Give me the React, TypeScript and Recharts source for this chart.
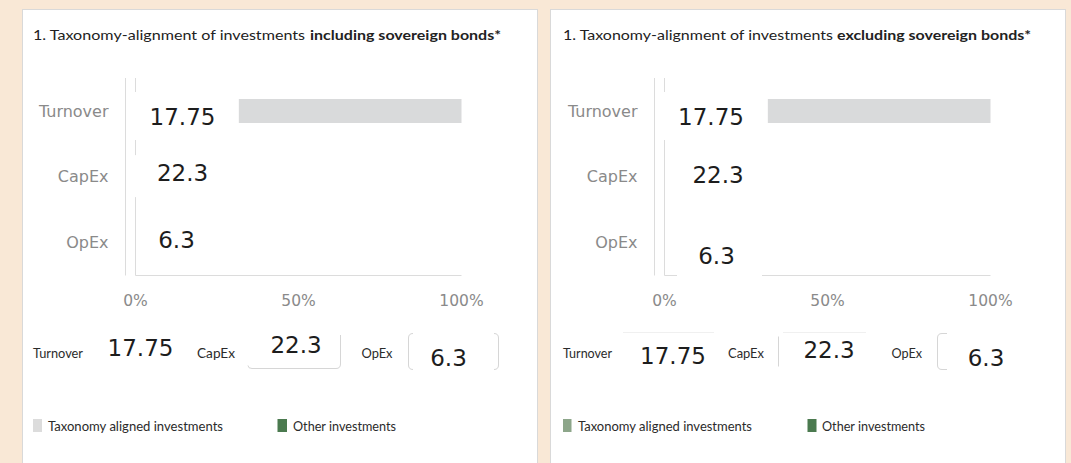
import React from 'react';
import { BarChart, Bar, XAxis, YAxis, LabelList } from 'recharts';

// ---------- data ----------
const categories = ['Turnover', 'CapEx', 'OpEx'];
const alignmentValues = [17.75, 22.3, 6.3];
const alignedRanges: ([number, number] | null)[] = [[31.7, 100], null, null];
const xTicks = [0, 50, 100];
const titleLead = '1. Taxonomy-alignment of investments';
const titleBold = ['including sovereign bonds*', 'excluding sovereign bonds*'];
const legendLabels = ['Taxonomy aligned investments', 'Other investments'];

const chartData = categories.map((name, i) => ({
  name,
  value: alignmentValues[i],
  aligned: alignedRanges[i],
}));

// ---------- styling / layout ----------
const NUM_FONT = 'DejaVu Sans';
const SMALL_FONT = 'Lato';
const LINE = '#dcdcdc';
const EDGE_ID = 'a_edge';
const CAT_ID = 'z_cat';

type LabelStyle = { dx: number; dy: number; bw: number; bh: number; bdx: number; bdy: number };

const panels = [
  {
    cardX: 22,
    chartX: 22,
    title: { x: 33, w: 272, bx: 310, bw: 191 },
    labelStyles: [
      { dx: 47, dy: 6, bw: 100, bh: 48, bdx: 0, bdy: -1 },
      { dx: 47, dy: -4.2, bw: 100, bh: 42, bdx: 0, bdy: 3.5 },
      { dx: 41, dy: -2.6, bw: 76, bh: 40, bdx: 0, bdy: 0 },
    ] as LabelStyle[],
    smallLabels: [
      { x: 33, w: 50 },
      { x: 197, w: 38 },
      { x: 361.5, w: 31 },
    ],
    numbers: [
      { cx: 140.5, cy: 348 },
      { cx: 296, cy: 345 },
      { cx: 448.5, cy: 357.5 },
    ],
    squares: [
      { x: 33, w: 9 },
      { x: 277.5, w: 9.5 },
    ],
    legendText: [
      { x: 48, w: 175 },
      { x: 293, w: 103 },
    ],
    legendColors: ['#dcdcdc', '#4b7a4f'],
    decor: [
      'M 248 365.5 Q 248 368.5 252 368.5 H 336 Q 340.5 368.5 340.5 364 V 335',
      'M 413 333.5 Q 408.5 333.5 408.5 338 V 365 Q 408.5 369.5 413 369.5',
      'M 494 333.5 Q 498.5 333.5 498.5 338 V 365 Q 498.5 369.5 494 369.5',
    ],
    faint: [] as string[],
  },
  {
    cardX: 550,
    chartX: 551,
    title: { x: 563, w: 270, bx: 837, bw: 194 },
    labelStyles: [
      { dx: 46.5, dy: 6, bw: 100, bh: 48, bdx: 0, bdy: -1 },
      { dx: 53.5, dy: -2.7, bw: 100, bh: 42, bdx: 0, bdy: 2 },
      { dx: 52, dy: 12.9, bw: 85, bh: 46, bdx: 3, bdy: 0 },
    ] as LabelStyle[],
    smallLabels: [
      { x: 563, w: 49 },
      { x: 728, w: 36 },
      { x: 891.5, w: 30.5 },
    ],
    numbers: [
      { cx: 673, cy: 356 },
      { cx: 829, cy: 350 },
      { cx: 986, cy: 357.5 },
    ],
    squares: [
      { x: 563, w: 8.5 },
      { x: 807.5, w: 9 },
    ],
    legendText: [
      { x: 578, w: 174 },
      { x: 822, w: 103 },
    ],
    legendColors: ['#8da68a', '#4b7a4f'],
    decor: [
      'M 778.5 336.5 V 366.5',
      'M 947 333.5 H 942 Q 937.5 333.5 937.5 338 V 365 Q 937.5 369.5 942 369.5 H 947',
    ],
    faint: ['M 623 332.5 H 714', 'M 783 332.5 H 866'],
  },
];

const makeLabel = (styles: LabelStyle[]) => (props: any) => {
  const vb = props.viewBox || {};
  const x = props.x ?? vb.x;
  const y = props.y ?? vb.y;
  const h = props.height ?? vb.height;
  const i = props.index ?? 0;
  const s = styles[i];
  if (x == null || y == null || !s) return null;
  const cx = x + s.dx;
  const cy = y + h / 2 + s.dy;
  return (
    <g key={`lbl-${i}`}>
      <rect
        x={cx + s.bdx - s.bw / 2}
        y={cy + s.bdy - s.bh / 2}
        width={s.bw}
        height={s.bh}
        fill="#ffffff"
      />
      <text
        x={cx}
        y={cy + 8.4}
        textAnchor="middle"
        fontFamily={NUM_FONT}
        fontSize={23}
        fill="#1d1d1d"
      >
        {props.value}
      </text>
    </g>
  );
};

function PanelChart({ styles }: { styles: LabelStyle[] }) {
  return (
    <BarChart
      width={516}
      height={320}
      data={chartData}
      layout="vertical"
      margin={{ top: 78, right: 76.5, bottom: 14.5, left: 0 }}
    >
      <XAxis
        type="number"
        domain={[0, 100]}
        ticks={xTicks}
        tickFormatter={(v: number) => `${v}%`}
        axisLine={{ stroke: LINE }}
        tickLine={false}
        tickSize={0}
        tickMargin={19.5}
        height={30}
        interval={0}
        tick={{ fill: '#8a8a8a', fontSize: 15.5, fontFamily: NUM_FONT }}
      />
      <YAxis
        yAxisId={EDGE_ID}
        type="category"
        dataKey="name"
        width={10}
        tick={false}
        tickLine={false}
        axisLine={{ stroke: LINE }}
      />
      <YAxis
        yAxisId={CAT_ID}
        type="category"
        dataKey="name"
        width={103.5}
        tickLine={false}
        tickSize={0}
        tickMargin={17}
        axisLine={{ stroke: LINE }}
        tick={{ fill: '#8a8a8a', fontSize: 16, fontFamily: NUM_FONT }}
      />
      <Bar
        yAxisId={CAT_ID}
        dataKey="aligned"
        name={legendLabels[0]}
        fill="#d9dadb"
        barSize={24}
        isAnimationActive={false}
      />
      <Bar
        yAxisId={EDGE_ID}
        dataKey="value"
        fill="#ffffff"
        fillOpacity={0}
        barSize={24}
        isAnimationActive={false}
      >
        <LabelList dataKey="value" content={makeLabel(styles)} />
      </Bar>
    </BarChart>
  );
}

export default function App() {
  return (
    <div
      style={{
        position: 'absolute',
        left: 0,
        top: 0,
        width: 1071,
        height: 463,
        background: '#f9e8d6',
        overflow: 'hidden',
      }}
    >
      {panels.map((p, pi) => (
        <div
          key={`card-${pi}`}
          style={{
            position: 'absolute',
            left: p.cardX,
            top: 9,
            width: 516,
            height: 480,
            boxSizing: 'border-box',
            border: '1px solid #d9d9d9',
            background: '#ffffff',
          }}
        />
      ))}
      {panels.map((p, pi) => (
        <div key={`chart-${pi}`} style={{ position: 'absolute', left: p.chartX, top: 0 }}>
          <PanelChart styles={p.labelStyles} />
        </div>
      ))}
      <svg
        width={1071}
        height={463}
        style={{ position: 'absolute', left: 0, top: 0, pointerEvents: 'none' }}
      >
        {panels.map((p, pi) => (
          <g key={`ov-${pi}`}>
            <text
              x={p.title.x}
              y={40}
              fontFamily={SMALL_FONT}
              fontSize={13.5}
              fill="#222"
              textLength={p.title.w}
              lengthAdjust="spacingAndGlyphs"
            >
              {titleLead}
            </text>
            <text
              x={p.title.bx}
              y={40}
              fontFamily={SMALL_FONT}
              fontSize={13.5}
              fontWeight={700}
              fill="#222"
              textLength={p.title.bw}
              lengthAdjust="spacingAndGlyphs"
            >
              {titleBold[pi]}
            </text>
            {categories.map((c, i) => (
              <text
                key={`sl-${i}`}
                x={p.smallLabels[i].x}
                y={357.5}
                fontFamily={SMALL_FONT}
                fontSize={12.5}
                fill="#2b2b2b"
                textLength={p.smallLabels[i].w}
                lengthAdjust="spacingAndGlyphs"
              >
                {c}
              </text>
            ))}
            {alignmentValues.map((v, i) => (
              <text
                key={`nv-${i}`}
                x={p.numbers[i].cx}
                y={p.numbers[i].cy + 8.4}
                textAnchor="middle"
                fontFamily={NUM_FONT}
                fontSize={23}
                fill="#1d1d1d"
              >
                {v}
              </text>
            ))}
            {p.decor.map((d, i) => (
              <path key={`dc-${i}`} d={d} fill="none" stroke="#d6d6d6" strokeWidth={1} />
            ))}
            {p.faint.map((d, i) => (
              <path key={`ft-${i}`} d={d} fill="none" stroke="#f0f0f0" strokeWidth={1} />
            ))}
            {legendLabels.map((l, i) => (
              <g key={`lg-${i}`}>
                <rect x={p.squares[i].x} y={419} width={p.squares[i].w} height={13} fill={p.legendColors[i]} />
                <text
                  x={p.legendText[i].x}
                  y={430.5}
                  fontFamily={SMALL_FONT}
                  fontSize={12.5}
                  fill="#2b2b2b"
                  textLength={p.legendText[i].w}
                  lengthAdjust="spacingAndGlyphs"
                >
                  {l}
                </text>
              </g>
            ))}
          </g>
        ))}
      </svg>
    </div>
  );
}
